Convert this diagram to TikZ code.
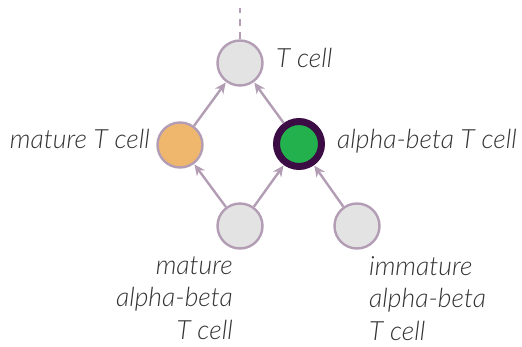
\documentclass[tikz,border=0pt]{standalone}
\usepackage{fontspec}
\setmainfont{Lato}[ItalicFont=* Light Italic]
\usetikzlibrary{arrows.meta}
\definecolor{ring}{HTML}{B39DB5}
\definecolor{cellfill}{HTML}{E3E3E3}
\definecolor{matfill}{HTML}{EFB66E}
\definecolor{abfill}{HTML}{22B14C}
\definecolor{abring}{HTML}{3C0D45}
\definecolor{labeltext}{HTML}{333333}
\begin{document}
\begin{tikzpicture}[x=1pt,y=-1pt,
  cell/.style={circle,draw=ring,line width=2.4pt,fill=cellfill,minimum size=45pt,inner sep=0pt},
  link/.style={draw=ring,line width=2.4pt,-{Stealth[length=11pt,width=10pt]},shorten >=0.5pt},
  lbl/.style={font=\itshape\fontsize{26.5}{32.5}\selectfont,text=labeltext,inner sep=0pt}]
\useasboundingbox (0,0) rectangle (522,347);
% cells
\node[cell] (top) at (240,63) {};
\node[cell,fill=matfill] (mat) at (180,145) {};
\node[cell,fill=abfill,draw=abring,line width=7pt,minimum size=45pt] (ab) at (299,144) {};
\node[cell] (bm) at (240,226) {};
\node[cell] (br) at (357,226) {};
% dashed stem above the top cell
\coordinate (stem) at (240,8);
\draw[ring,line width=2.4pt,dash pattern=on 7pt off 6pt] (top.north) -- (stem);
% connectors
\draw[link] (mat) -- (top);
\draw[link] (ab) -- (top);
\draw[link] (bm) -- (mat);
\draw[link] (bm) -- (ab);
\draw[link] (br) -- (ab);
% labels
\node[lbl,anchor=base west] (ltop) at (276,68) {T cell};
\node[lbl,anchor=base east] (lmat) at (150,149) {mature T cell};
\node[lbl,anchor=base west] (lab) at (337,149) {alpha-beta T cell};
\node[lbl,anchor=north east,align=right] (lbm) at (233,256) {mature\\alpha-beta\\T cell};
\node[lbl,anchor=north west,align=left] (lbr) at (369,256) {immature\\alpha-beta\\T cell};
\end{tikzpicture}
\end{document}
